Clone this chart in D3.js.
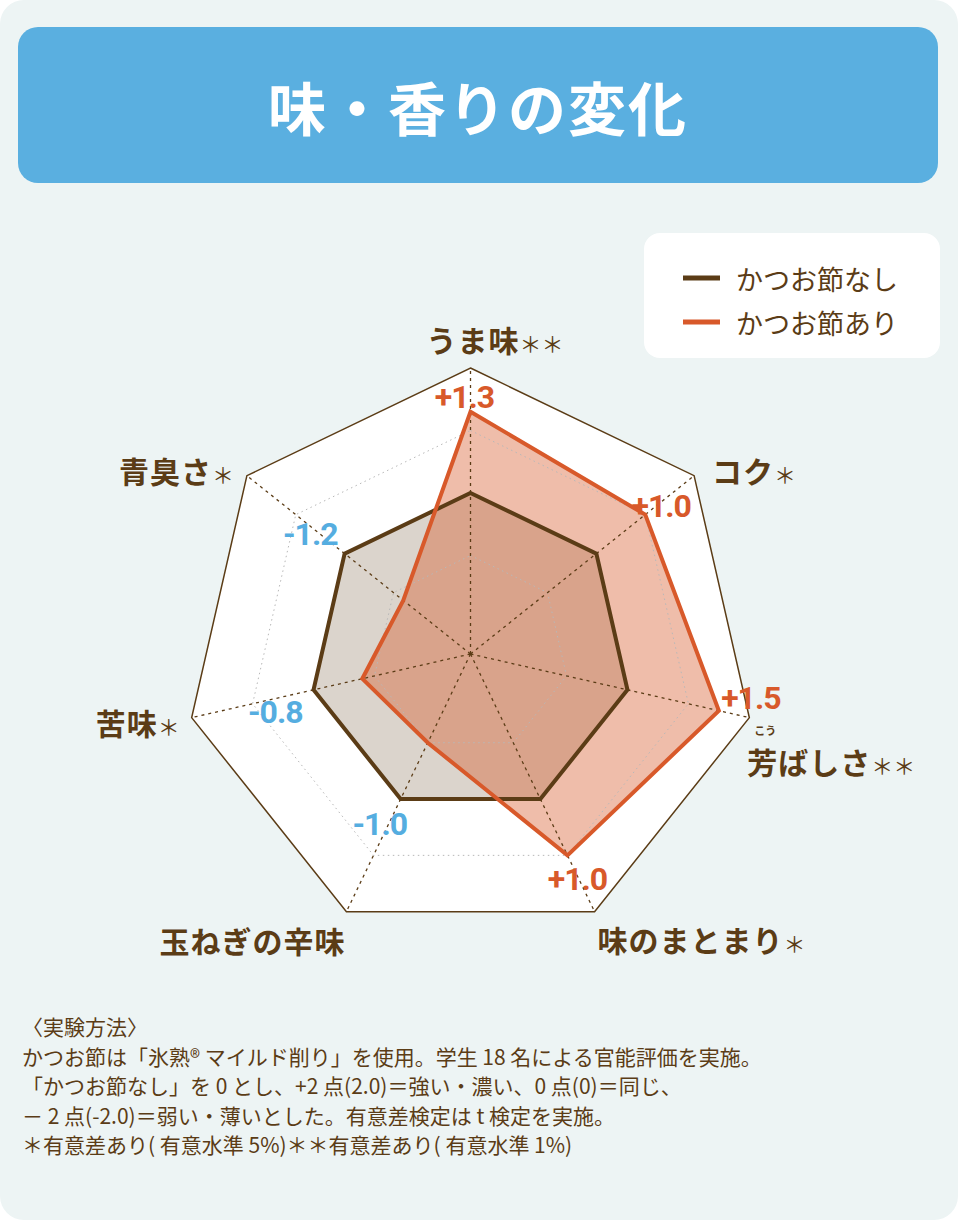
<!DOCTYPE html>
<html lang="ja">
<head>
<meta charset="utf-8">
<script src="https://cdn.jsdelivr.net/npm/d3@7"></script>
<style>
  html, body { margin: 0; padding: 0; background: #ffffff; }
  svg { display: block; }
</style>
</head>
<body>
<div id="chart"></div>
<script>
// 項目（時計回り、上から）
const categories = ['うま味', 'コク', '芳ばしさ', '味のまとまり', '玉ねぎの辛味', '苦味', '青臭さ'];
const furigana = ['', '', 'こう', '', '', '', ''];
const significance = ['＊＊', '＊', '＊＊', '＊', '', '＊', '＊'];
const seriesNames = ['かつお節なし', 'かつお節あり'];
const valuesWithout = [0, 0, 0, 0, 0, 0, 0];
const valuesWith = [1.3, 1.0, 1.5, 1.0, -1.0, -0.8, -1.2];
const valueLabels = ['+1.3', '+1.0', '+1.5', '+1.0', '-1.0', '-0.8', '-1.2'];
const scaleDomain = [-2, 2];
const gridLevels = [-1, 1];
const noteLines = [
  '〈実験方法〉',
  'かつお節は「氷熟® マイルド削り」を使用。学生 18 名による官能評価を実施。',
  '「かつお節なし」を 0 とし、+2 点(2.0)＝強い・濃い、0 点(0)＝同じ、',
  '－ 2 点(-2.0)＝弱い・薄いとした。有意差検定は t 検定を実施。',
  '＊有意差あり( 有意水準 5%)＊＊有意差あり( 有意水準 1%)'
];

const W = 958, H = 1220;
const BROWN = '#5b3c16', ORANGE = '#d8592a', BLUE = '#55ade0';
const JP = '"Noto Sans CJK JP", "Noto Sans", sans-serif';

const svg = d3.select('#chart').append('svg')
  .attr('width', W).attr('height', H);

// カード背景
svg.append('rect')
  .attr('width', W).attr('height', H)
  .attr('rx', 24)
  .attr('fill', '#edf4f4');

// タイトル
svg.append('rect')
  .attr('x', 18).attr('y', 27)
  .attr('width', 920).attr('height', 156)
  .attr('rx', 20)
  .attr('fill', '#5aafe0');

svg.append('text')
  .attr('x', W / 2 - 1).attr('y', 106)
  .attr('text-anchor', 'middle')
  .attr('dominant-baseline', 'central')
  .attr('fill', '#ffffff')
  .style('font-family', JP)
  .style('font-weight', 700)
  .style('font-size', '58px')
  .style('letter-spacing', '2px')
  .text('味・香りの変化');

// 凡例
const legend = svg.append('g');
legend.append('rect')
  .attr('x', 644).attr('y', 233)
  .attr('width', 296).attr('height', 125)
  .attr('rx', 16)
  .attr('fill', '#ffffff');

const legendItems = legend.selectAll('g.item')
  .data(seriesNames)
  .join('g')
  .attr('class', 'item')
  .attr('transform', (d, i) => `translate(683,${278 + i * 44})`);

legendItems.append('line')
  .attr('x1', 0).attr('x2', 37)
  .attr('stroke', (d, i) => i === 0 ? BROWN : ORANGE)
  .attr('stroke-width', 5);

legendItems.append('text')
  .attr('x', 53)
  .attr('dominant-baseline', 'central')
  .attr('fill', BROWN)
  .style('font-family', JP)
  .style('font-size', '27px')
  .text(d => d);

// レーダーチャート
const cx = 470.5, cy = 654;
const n = categories.length;
const r = d3.scaleLinear().domain(scaleDomain).range([36, 286]);
const angle = d3.scaleLinear().domain([0, n]).range([0, 2 * Math.PI]);

const g = svg.append('g').attr('transform', `translate(${cx},${cy})`);

const ring = level => d3.lineRadial()
  .angle((d, i) => angle(i))
  .radius(() => r(level))
  .curve(d3.curveLinearClosed)(categories);

const shape = d3.lineRadial()
  .angle((d, i) => angle(i))
  .radius(d => r(d))
  .curve(d3.curveLinearClosed);

// 外枠
g.append('path')
  .attr('d', ring(scaleDomain[1]))
  .attr('fill', '#ffffff')
  .attr('stroke', BROWN)
  .attr('stroke-width', 1.5);

// 塗り
g.append('path')
  .attr('d', shape(valuesWithout))
  .attr('fill', BROWN)
  .attr('fill-opacity', 0.22);

g.append('path')
  .attr('d', shape(valuesWith))
  .attr('fill', ORANGE)
  .attr('fill-opacity', 0.4);

// 補助線
gridLevels.forEach(level => {
  g.append('path')
    .attr('d', ring(level))
    .attr('fill', 'none')
    .attr('stroke', '#b8b8b8')
    .attr('stroke-width', 1)
    .attr('stroke-dasharray', '1.5,3.5');
});

g.selectAll('line.spoke')
  .data(categories)
  .join('line')
  .attr('class', 'spoke')
  .attr('x1', 0).attr('y1', 0)
  .attr('x2', (d, i) => d3.pointRadial(angle(i), r(scaleDomain[1]))[0])
  .attr('y2', (d, i) => d3.pointRadial(angle(i), r(scaleDomain[1]))[1])
  .attr('stroke', BROWN)
  .attr('stroke-width', 1.3)
  .attr('stroke-dasharray', '3,4');

// 線
g.append('path')
  .attr('d', shape(valuesWithout))
  .attr('fill', 'none')
  .attr('stroke', BROWN)
  .attr('stroke-width', 4)
  .attr('stroke-linejoin', 'miter');

g.append('path')
  .attr('d', shape(valuesWith))
  .attr('fill', 'none')
  .attr('stroke', ORANGE)
  .attr('stroke-width', 4)
  .attr('stroke-linejoin', 'miter');

// 項目ラベル（外枠の頂点からのずれ）
const catOffsets = [
  { dx: -44, dy: -16, anchor: 'start' },
  { dx: 18, dy: 7, anchor: 'start' },
  { dx: -2, dy: 56, anchor: 'start' },
  { dx: 3, dy: 40, anchor: 'start' },
  { dx: -1, dy: 41, anchor: 'end' },
  { dx: -12, dy: 17, anchor: 'end' },
  { dx: -13, dy: 7, anchor: 'end' }
];

g.selectAll('text.cat')
  .data(categories)
  .join('text')
  .attr('class', 'cat')
  .attr('text-anchor', (d, i) => catOffsets[i].anchor)
  .attr('fill', BROWN)
  .style('font-family', JP)
  .style('font-size', '30px')
  .each(function (d, i) {
    const p = d3.pointRadial(angle(i), r(scaleDomain[1]));
    const x = p[0] + catOffsets[i].dx;
    const y = p[1] + catOffsets[i].dy;
    const t = d3.select(this);
    // ふりがな（芳ばしさ）
    if (furigana[i]) {
      t.append('tspan')
        .attr('x', x + 7).attr('y', y - 39)
        .style('font-weight', 700)
        .style('font-size', '11px')
        .text(furigana[i]);
    }
    t.append('tspan')
      .attr('x', x).attr('y', y)
      .style('font-weight', 700)
      .style('letter-spacing', '1px')
      .text(d);
    t.append('tspan')
      .style('font-weight', 400)
      .style('font-size', '22px')
      .text(significance[i]);
  });

// 数値ラベル（データ点からのずれ）
const valOffsets = [
  { dx: -6, dy: -4 },
  { dx: 16, dy: 2 },
  { dx: 32, dy: -2 },
  { dx: 10, dy: 35 },
  { dx: -48, dy: 92 },
  { dx: -87, dy: 44 },
  { dx: -93, dy: -55 }
];

g.selectAll('text.val')
  .data(valuesWith)
  .join('text')
  .attr('class', 'val')
  .attr('x', (d, i) => d3.pointRadial(angle(i), r(d))[0] + valOffsets[i].dx)
  .attr('y', (d, i) => d3.pointRadial(angle(i), r(d))[1] + valOffsets[i].dy)
  .attr('text-anchor', 'middle')
  .attr('fill', d => d >= 0 ? ORANGE : BLUE)
  .style('font-family', 'Roboto, "DejaVu Sans", sans-serif')
  .style('font-weight', 700)
  .style('font-size', '32px')
  .style('letter-spacing', '-1px')
  .text((d, i) => valueLabels[i]);

// 注記
svg.append('g')
  .selectAll('text')
  .data(noteLines)
  .join('text')
  .attr('x', 22)
  .attr('y', (d, i) => 1035 + i * 29.6)
  .attr('fill', BROWN)
  .style('font-family', JP)
  .style('font-size', '21px')
  .text(d => d);
</script>
</body>
</html>
